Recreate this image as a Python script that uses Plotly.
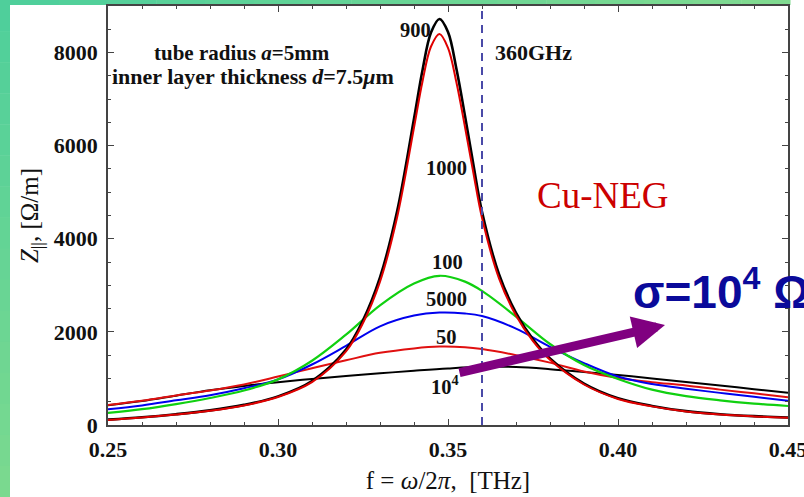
import plotly.graph_objects as go

# Sharp resonance curves (sampled densely around the peak)
freq_sharp = [0.25, 0.26, 0.27, 0.28, 0.29, 0.30, 0.31, 0.32, 0.325, 0.33, 0.335,
              0.34, 0.3425, 0.345, 0.3475, 0.35, 0.3525, 0.355, 0.3575, 0.36, 0.365,
              0.37, 0.375, 0.38, 0.39, 0.40, 0.41, 0.42, 0.43, 0.44, 0.45]
z_900 = [115, 165, 232, 315, 432, 615, 945, 1620, 2250, 3170, 4580,
         6580, 7620, 8430, 8720, 8440, 7640, 6640, 5580, 4580, 3240,
         2410, 1840, 1430, 890, 575, 410, 298, 232, 190, 162]
z_1000 = [110, 160, 225, 305, 420, 600, 920, 1580, 2190, 3080, 4450,
          6390, 7380, 8130, 8400, 8100, 7350, 6400, 5400, 4450, 3150,
          2350, 1800, 1400, 870, 560, 400, 290, 225, 185, 157]

# Broad resonance curves
freq_broad = [0.25, 0.26, 0.27, 0.28, 0.29, 0.30, 0.31, 0.32, 0.33, 0.34, 0.3475,
              0.355, 0.36, 0.37, 0.38, 0.39, 0.40, 0.41, 0.42, 0.43, 0.44, 0.45]
z_100 = [260, 340, 450, 580, 740, 980, 1380, 1940, 2570, 3040, 3205,
         3080, 2880, 2330, 1740, 1290, 990, 760, 620, 530, 460, 408]
z_5000 = [340, 420, 530, 640, 790, 980, 1300, 1700, 2120, 2350, 2415,
          2395, 2340, 2070, 1680, 1330, 1040, 880, 780, 690, 605, 523]
z_50 = [430, 520, 635, 740, 870, 1040, 1220, 1390, 1550, 1645, 1684,
        1670, 1630, 1500, 1340, 1150, 1010, 920, 850, 760, 680, 595]

freq_1e4 = [0.25, 0.26, 0.27, 0.28, 0.29, 0.30, 0.31, 0.32, 0.33, 0.34, 0.35,
            0.36, 0.37, 0.38, 0.39, 0.40, 0.41, 0.42, 0.43, 0.44, 0.45]
z_1e4 = [425, 515, 630, 745, 840, 920, 990, 1050, 1110, 1165, 1215,
         1250, 1245, 1200, 1140, 1075, 1000, 925, 850, 770, 695]

f_marker = 0.36  # 360 GHz reference line

x_tickvals = [0.25, 0.30, 0.35, 0.40, 0.45]
x_ticktext = ["0.25", "0.30", "0.35", "0.40", "0.45"]

# Curve labels: (text, frequency, impedance)
curve_labels = [
    ("900", 0.3403, 8490),
    ("1000", 0.3497, 5520),
    ("100", 0.3498, 3510),
    ("5000", 0.3497, 2700),
    ("50", 0.3497, 1900),
    ("10<sup>4</sup>", 0.3490, 860),
]

W, H = 804, 497
L, R, T, B = 108, 16, 6, 72
X0, X1 = 0.25, 0.45
Y0, Y1 = 0, 9000


def fx(px):
    return X0 + (px - L) * (X1 - X0) / (W - L - R)


def vy(py):
    return Y0 + (H - B - py) * (Y1 - Y0) / (H - B - T)


def px_paper(px):
    return (px - L) / (W - L - R)


def py_paper(py):
    return (H - B - py) / (H - B - T)


fig = go.Figure()


def add_curve(x, y, color, width):
    fig.add_trace(go.Scatter(
        x=x, y=y, mode="lines", hoverinfo="skip", showlegend=False,
        line=dict(color=color, width=width, shape="spline", smoothing=1.0),
    ))


add_curve(freq_1e4, z_1e4, "#000000", 2)
add_curve(freq_broad, z_50, "#e01010", 2)
add_curve(freq_broad, z_5000, "#0000ee", 2)
add_curve(freq_broad, z_100, "#10d010", 2.2)
add_curve(freq_sharp, z_900, "#000000", 2.6)
add_curve(freq_sharp, z_1000, "#e00000", 2)

shapes = []
# vertical dashed marker
shapes.append(dict(type="line", xref="x", yref="paper", x0=f_marker, x1=f_marker,
                   y0=0, y1=1, line=dict(color="#4a4aa8", width=2, dash="8px,6px"),
                   layer="above"))


def lerp(c0, c1, t):
    return "#%02x%02x%02x" % tuple(int(round(a + (b - a) * t)) for a, b in zip(c0, c1))


# green frame strips on the left and top
n = 16
left_top, left_bot = (0x4f, 0xcf, 0x9b), (0x7a, 0xd9, 0x8f)
for i in range(n):
    ya, yb = i * H / n, (i + 1) * H / n + 0.5
    shapes.append(dict(type="rect", xref="paper", yref="paper",
                       x0=px_paper(0), x1=px_paper(10),
                       y0=py_paper(yb), y1=py_paper(ya),
                       fillcolor=lerp(left_top, left_bot, i / (n - 1)),
                       line=dict(width=0), layer="below"))
top_l, top_r = (0x4f, 0xcf, 0x9b), (0x80, 0xda, 0x90)
for i in range(n):
    xa, xb = 10 + i * 780 / n, 10 + (i + 1) * 780 / n + 0.5
    shapes.append(dict(type="rect", xref="paper", yref="paper",
                       x0=px_paper(xa), x1=px_paper(xb),
                       y0=py_paper(5), y1=py_paper(0),
                       fillcolor=lerp(top_l, top_r, i / (n - 1)),
                       line=dict(width=0), layer="below"))


def serif_bold(size):
    return dict(family="Liberation Serif", size=size, color="#111111", weight="bold")


annotations = []
for txt, f, z in curve_labels:
    annotations.append(dict(x=f, y=z, xref="x", yref="y", text=txt, showarrow=False,
                            font=serif_bold(20.5), xanchor="center", yanchor="middle"))

annotations += [
    dict(x=fx(152), y=vy(53), xref="x", yref="y", showarrow=False, xanchor="left",
         yanchor="middle", text="tube radius <i>a</i>=5mm", font=serif_bold(21)),
    dict(x=fx(110), y=vy(76), xref="x", yref="y", showarrow=False, xanchor="left",
         yanchor="middle", text="inner layer thickness <i>d</i>=7.5<i>μ</i>m",
         font=serif_bold(22)),
    dict(x=fx(493), y=vy(52), xref="x", yref="y", showarrow=False, xanchor="left",
         yanchor="middle", text="360GHz", font=serif_bold(22)),
    dict(x=fx(535), y=vy(195), xref="x", yref="y", showarrow=False, xanchor="left",
         yanchor="middle", text="Cu-NEG",
         font=dict(family="Liberation Serif", size=37, color="#cc0000")),
    dict(x=fx(631), y=vy(289), xref="x", yref="y", showarrow=False, xanchor="left",
         yanchor="middle", text="σ=10<sup>4</sup> Ω",
         font=dict(family="Liberation Sans", size=46, color="#0a0a9a", weight="bold")),
    dict(x=fx(665), y=vy(325), ax=fx(458), ay=vy(373), xref="x", yref="y",
         axref="x", ayref="y", text="", showarrow=True, arrowhead=2,
         arrowwidth=9, arrowsize=0.72, arrowcolor="#800080"),
]

tickfont = serif_bold(22)
axis_common = dict(
    showline=True, linecolor="#444444", linewidth=1.5, mirror="ticks",
    ticks="inside", ticklen=6, tickwidth=1.2, tickcolor="#444444",
    showgrid=False, zeroline=False, tickfont=tickfont,
)

fig.update_layout(
    width=W, height=H,
    margin=dict(l=L, r=R, t=T, b=B, autoexpand=False),
    paper_bgcolor="white", plot_bgcolor="white",
    showlegend=False,
    shapes=shapes,
    annotations=annotations,
    xaxis=dict(range=[X0, X1 + 1e-7], tickmode="array", tickvals=x_tickvals,
               ticktext=x_ticktext, ticklabelstandoff=4, ticklabeloverflow="allow",
               minor=dict(tickmode="linear", dtick=0.01, tick0=0.25, ticks="inside",
                          ticklen=3, tickcolor="#444444", showgrid=False),
               title=dict(text="f = <i>ω</i>/2<i>π</i>,  [THz]", standoff=10,
                          font=dict(family="Liberation Serif", size=25, color="#111111")),
               **axis_common),
    yaxis=dict(range=[Y0, Y1], tick0=0, dtick=2000, tickformat="d",
               ticklabelstandoff=4,
               minor=dict(dtick=500, tick0=0, ticks="inside", ticklen=3,
                          tickcolor="#444444", showgrid=False),
               title=dict(text="<i>Z</i><sub>||</sub>, [Ω/m]", standoff=8,
                          font=dict(family="Liberation Serif", size=25, color="#111111")),
               **axis_common),
)

fig.write_html("out.html")
